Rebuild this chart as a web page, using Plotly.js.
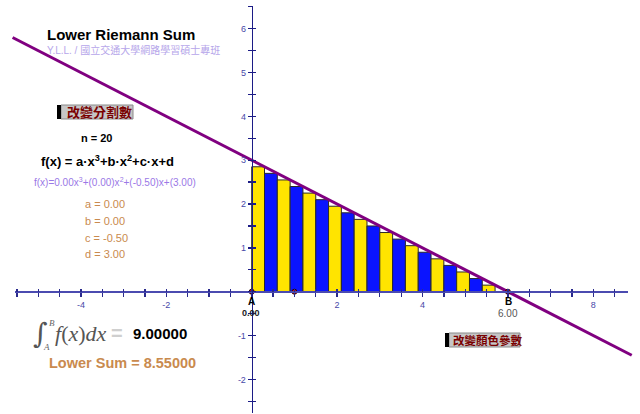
<!DOCTYPE html>
<html>
<head>
<meta charset="utf-8">
<script src="https://cdn.plot.ly/plotly-3.0.1.min.js"></script>
<style>
  html, body { margin: 0; padding: 0; background: #fff; }
  #chart { width: 640px; height: 414px; }
</style>
</head>
<body>
<div id="chart"></div>
<script>
// Cubic coefficients of f(x) = a·x³ + b·x² + c·x + d
const coefA = 0.00, coefB = 0.00, coefC = -0.50, coefD = 3.00;
const limitA = 0.00, limitB = 6.00;
const nParts = 20;
const integralValue = 9.00000;

// Lower-sum rectangles: centre of each sub-interval and its height
const barX = [0.15, 0.45, 0.75, 1.05, 1.35, 1.65, 1.95, 2.25, 2.55, 2.85,
              3.15, 3.45, 3.75, 4.05, 4.35, 4.65, 4.95, 5.25, 5.55, 5.85];
const barH = [2.85, 2.70, 2.55, 2.40, 2.25, 2.10, 1.95, 1.80, 1.65, 1.50,
              1.35, 1.20, 1.05, 0.90, 0.75, 0.60, 0.45, 0.30, 0.15, 0.00];

// Graph of f(x): end points of the drawn segment
const curveX = [-5.6, 8.9];
const curveY = [5.80, -1.45];

// Marked points on the x-axis
const pointX = [0, 1, 6];
const pointY = [0, 0, 0];

// Axis tick labels
const xLabelVals = [-4, -2, 2, 4, 8];
const yLabelVals = [-2, -1, 1, 2, 3, 4, 5, 6];

// ---- page geometry (pixels) ----
const W = 640, H = 414;
const X0 = 251.7, SX = 42.7;   // pixel column of x = 0, pixels per unit
const Y0 = 291.7, SY = 43.83;  // pixel row of y = 0, pixels per unit
const px2x = p => (p - X0) / SX;
const py2y = p => (Y0 - p) / SY;
const fx = p => p / W;
const fy = p => 1 - p / H;

const dx = (limitB - limitA) / nParts;
const lowerSum = barH.reduce((s, h) => s + h, 0) * dx;
const barColors = barX.map((_, i) => i % 2 === 0 ? '#FFE400' : '#0A14FF');

// tick positions every 0.5, labels only at the listed values
const xTicks = [], yTicks = [];
for (let v = -5.5; v <= 8.5001; v += 0.5) xTicks.push(+v.toFixed(1));
for (let v = -2.5; v <= 6.5001; v += 0.5) yTicks.push(+v.toFixed(1));
const xTickText = xTicks.map(v => xLabelVals.includes(v) ? String(v) : ' ');
const yTickText = yTicks.map(v => yLabelVals.includes(v) ? String(v) : ' ');

const FONT = 'Arial, "Liberation Sans", "Noto Sans CJK TC", sans-serif';
const CJK = '"Noto Sans CJK TC", "Noto Sans CJK SC", sans-serif';

const traces = [
  {
    type: 'bar', x: barX, y: barH, width: dx,
    marker: { color: barColors, line: { color: '#2a2a2a', width: 1 } },
    hoverinfo: 'skip', xaxis: 'x', yaxis: 'y'
  },
  {
    type: 'scatter', mode: 'lines', x: curveX, y: curveY,
    line: { color: '#800080', width: 3 },
    hoverinfo: 'skip', xaxis: 'x', yaxis: 'y'
  },
  {
    type: 'scatter', mode: 'markers', x: pointX, y: pointY,
    marker: { color: '#d01010', size: 5, line: { color: '#300000', width: 1 } },
    hoverinfo: 'skip', xaxis: 'x', yaxis: 'y'
  },
  // carriers for the coordinate-axis subplots
  { type: 'scatter', mode: 'markers', x: [0], y: [0], marker: { opacity: 0 },
    hoverinfo: 'skip', xaxis: 'x2', yaxis: 'y2' },
  { type: 'scatter', mode: 'markers', x: [0], y: [0], marker: { opacity: 0 },
    hoverinfo: 'skip', xaxis: 'x3', yaxis: 'y3' }
];

const axRangeX = [px2x(15), px2x(628)];
const axRangeY = [py2y(413), py2y(6)];
const axDomX = [fx(15), fx(628)];
const axDomY = [fy(413), fy(6)];

function ann(text, x, y, opts) {
  return Object.assign({
    xref: 'paper', yref: 'paper', x: fx(x), y: fy(y),
    xanchor: 'left', yanchor: 'middle', showarrow: false, text: text,
    font: { family: FONT, size: 11, color: '#000' }
  }, opts || {});
}

const annotations = [
  ann('<b>Lower Riemann Sum</b>', 45, 34, { font: { family: FONT, size: 15, color: '#000' } }),
  ann('Y.L.L. / 國立交通大學網路學習碩士專班', 45, 50,
      { font: { family: 'Arial, "Liberation Sans", ' + CJK, size: 10, color: '#b6a6ea' } }),
  ann('<b>改變分割數</b>', 65, 112, { font: { family: CJK, size: 13, color: '#7a0000' } }),
  ann('<b>n = ' + nParts + '</b>', 97, 138, { xanchor: 'center', font: { family: FONT, size: 11, color: '#000' } }),
  ann('<b>f(x) = a·x<sup>3</sup>+b·x<sup>2</sup>+c·x+d</b>', 39, 161,
      { font: { family: FONT, size: 13, color: '#000' } }),
  ann('f(x)=' + coefA.toFixed(2) + 'x<sup>3</sup>+(' + coefB.toFixed(2) + ')x<sup>2</sup>+(' +
      coefC.toFixed(2) + ')x+(' + coefD.toFixed(2) + ')', 32, 182,
      { font: { family: FONT, size: 10, color: '#9a78e6' } }),
  ann('a = ' + coefA.toFixed(2), 83, 204, { font: { family: FONT, size: 11, color: '#c98a4e' } }),
  ann('b = ' + coefB.toFixed(2), 83, 221, { font: { family: FONT, size: 11, color: '#c98a4e' } }),
  ann('c = ' + coefC.toFixed(2), 83, 238, { font: { family: FONT, size: 11, color: '#c98a4e' } }),
  ann('d = ' + coefD.toFixed(2), 83, 254, { font: { family: FONT, size: 11, color: '#c98a4e' } }),
  // definite integral
  ann('∫', 31, 333, { font: { family: '"DejaVu Serif", serif', size: 28, color: '#555' } }),
  ann('<i>B</i>', 47, 323, { font: { family: '"Liberation Serif", serif', size: 9, color: '#666' } }),
  ann('<i>A</i>', 41, 347, { font: { family: '"Liberation Serif", serif', size: 9, color: '#666' } }),
  ann('<i>f</i>(<i>x</i>)<i>dx</i>', 53, 333, { font: { family: '"Liberation Serif", serif', size: 22, color: '#555' } }),
  ann('<b>=</b>', 109, 333, { font: { family: FONT, size: 20, color: '#cfcfcf' } }),
  ann('<b>' + integralValue.toFixed(5) + '</b>', 131, 333, { font: { family: FONT, size: 15, color: '#000' } }),
  ann('<b>Lower Sum = ' + lowerSum.toFixed(5) + '</b>', 47, 363,
      { font: { family: FONT, size: 14.5, color: '#c98a4e' } }),
  // point labels
  ann('<b>A</b>', 251, 301, { xanchor: 'center', font: { family: FONT, size: 10, color: '#000' } }),
  ann('<b>' + limitA.toFixed(2) + '</b>', 251, 313, { xanchor: 'center', font: { family: FONT, size: 9, color: '#222' } }),
  ann('<b>B</b>', 508, 301, { xanchor: 'center', font: { family: FONT, size: 10, color: '#000' } }),
  ann(limitB.toFixed(2), 508, 313, { xanchor: 'center', font: { family: FONT, size: 10, color: '#555' } }),
  ann('<b>改變顏色參數</b>', 451, 340, { font: { family: CJK, size: 11.5, color: '#7a0000' } })
];

const shapes = [
  { type: 'rect', xref: 'paper', yref: 'paper', x0: fx(57), x1: fx(61), y0: fy(105), y1: fy(119),
    fillcolor: '#000', line: { width: 0 } },
  { type: 'rect', xref: 'paper', yref: 'paper', x0: fx(61), x1: fx(133), y0: fy(105), y1: fy(119),
    fillcolor: '#c6c6c6', line: { color: '#8a8a8a', width: 1 }, layer: 'below' },
  { type: 'rect', xref: 'paper', yref: 'paper', x0: fx(445), x1: fx(449), y0: fy(333), y1: fy(347),
    fillcolor: '#000', line: { width: 0 } },
  { type: 'rect', xref: 'paper', yref: 'paper', x0: fx(449), x1: fx(520), y0: fy(333), y1: fy(347),
    fillcolor: '#c6c6c6', line: { color: '#8a8a8a', width: 1 }, layer: 'below' }
];

const axisCommon = { showgrid: false, zeroline: false, fixedrange: true, anchor: 'free' };

const layout = {
  width: W, height: H,
  margin: { l: 0, r: 0, t: 0, b: 0, pad: 0 },
  paper_bgcolor: '#ffffff', plot_bgcolor: 'rgba(0,0,0,0)',
  showlegend: false, bargap: 0,
  font: { family: FONT },
  xaxis: { domain: [0, 1], range: [px2x(0), px2x(W)], visible: false, fixedrange: true },
  yaxis: { domain: [0, 1], range: [py2y(H), py2y(0)], visible: false, fixedrange: true },
  xaxis2: Object.assign({}, axisCommon, {
    domain: axDomX, range: axRangeX, position: fy(Y0),
    showline: true, linecolor: '#4b4bb0', linewidth: 2,
    tickmode: 'array', tickvals: xTicks, ticktext: xTickText,
    ticks: 'outside', ticklen: 4, tickwidth: 1.3, tickcolor: '#2a2a8c',
    tickfont: { family: FONT, size: 9, color: '#4848a8' }
  }),
  xaxis3: Object.assign({}, axisCommon, {
    overlaying: 'x2', range: axRangeX, position: fy(Y0),
    showline: false, tickmode: 'array', tickvals: xTicks, showticklabels: false,
    ticks: 'inside', ticklen: 3, tickwidth: 1.3, tickcolor: '#2a2a8c'
  }),
  yaxis2: Object.assign({}, axisCommon, {
    domain: axDomY, range: axRangeY, position: fx(X0),
    showline: true, linecolor: '#1c1c86', linewidth: 1.6,
    tickmode: 'array', tickvals: yTicks, ticktext: yTickText,
    ticks: 'outside', ticklen: 4, tickwidth: 1.3, tickcolor: '#1c1c86',
    tickfont: { family: FONT, size: 9, color: '#4848a8' }
  }),
  yaxis3: Object.assign({}, axisCommon, {
    overlaying: 'y2', range: axRangeY, position: fx(X0),
    showline: false, tickmode: 'array', tickvals: yTicks, showticklabels: false,
    ticks: 'inside', ticklen: 3, tickwidth: 1.3, tickcolor: '#1c1c86'
  }),
  annotations: annotations,
  shapes: shapes
};

Plotly.newPlot('chart', traces, layout, { staticPlot: true, displayModeBar: false });
</script>
</body>
</html>
